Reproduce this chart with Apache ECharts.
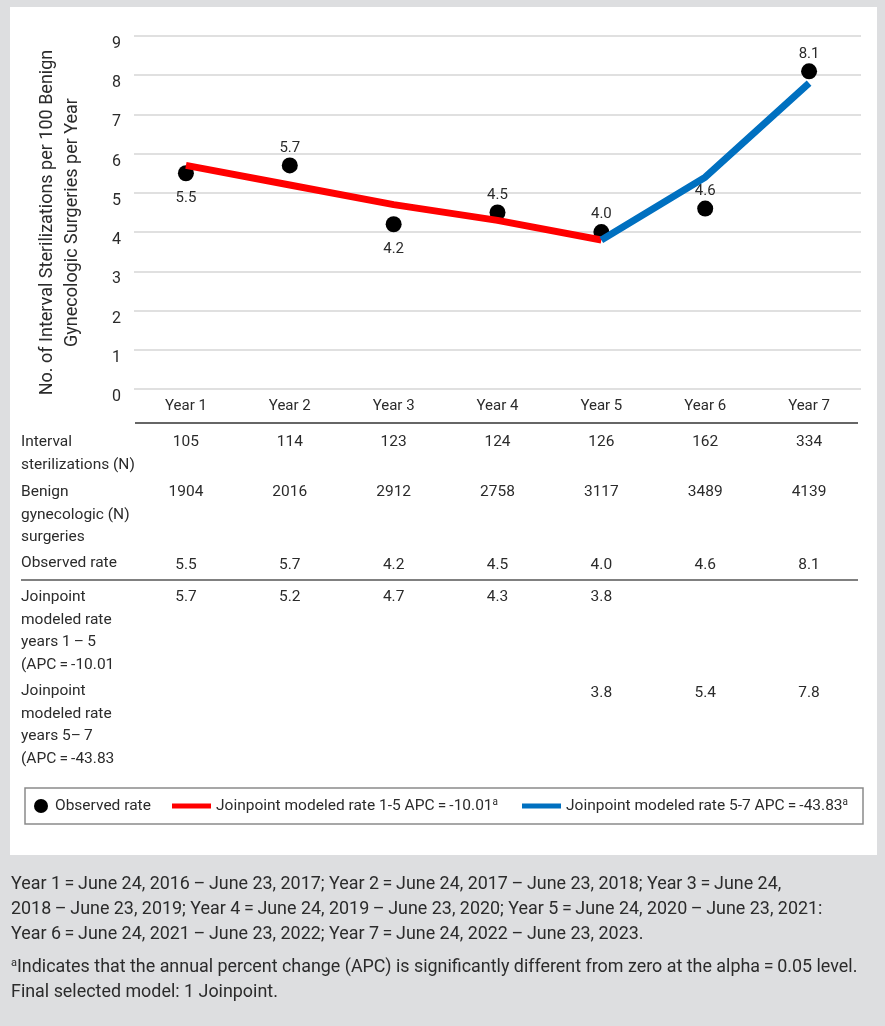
<!DOCTYPE html>
<html>
<head>
<meta charset="utf-8">
<script src="https://cdn.jsdelivr.net/npm/echarts@6/dist/echarts.min.js"></script>
<style>
  html, body { margin: 0; padding: 0; background: #dddee0; }
  #panel { position: absolute; left: 10px; top: 7px; width: 867px; height: 848px; background: #ffffff; }
  #chart { position: absolute; left: 0; top: 0; width: 885px; height: 1026px; }
</style>
</head>
<body>
<div id="panel"></div>
<div id="chart"></div>
<script>
// Study years on the category axis
const years = ['Year 1', 'Year 2', 'Year 3', 'Year 4', 'Year 5', 'Year 6', 'Year 7'];

// Interval sterilizations per 100 benign gynecologic surgeries
const observedRate = [5.5, 5.7, 4.2, 4.5, 4.0, 4.6, 8.1];
const modeledRate1to5 = [5.7, 5.2, 4.7, 4.3, 3.8, null, null];
const modeledRate5to7 = [null, null, null, null, 3.8, 5.4, 7.8];

// Counts shown in the table under the plot
const intervalSterilizations = [105, 114, 123, 124, 126, 162, 334];
const benignSurgeries = [1904, 2016, 2912, 2758, 3117, 3489, 4139];

// Value axis range
const yMin = 0, yMax = 9, yStep = 1;

// Which side of each dot its value label sits on
const observedLabelSide = ['bottom', 'top', 'bottom', 'top', 'top', 'top', 'top'];

const FONT = 'Roboto, "Liberation Sans", sans-serif';
const INK = '#2b2b2b';
const NAME_OBS = 'Observed rate';
const NAME_15 = 'Joinpoint modeled rate 1-5 APC\u2009=\u2009-10.01';
const NAME_57 = 'Joinpoint modeled rate 5-7 APC\u2009=\u2009-43.83';

const legendText = {
  fontFamily: FONT, fontSize: 15.5, color: INK, lineHeight: 18,
  rich: {
    t: { fontFamily: FONT, fontSize: 15.5, color: INK, lineHeight: 18 },
    s: { fontFamily: FONT, fontSize: 10, color: INK, lineHeight: 8, verticalAlign: 'top' }
  }
};

const chart = echarts.init(document.getElementById('chart'), null, { renderer: 'canvas' });

const option = {
  animation: false,
  backgroundColor: 'transparent',
  textStyle: { fontFamily: FONT },
  grid: { left: 134, right: 24, top: 36, bottom: 637, containLabel: false },
  xAxis: {
    type: 'category',
    data: years,
    boundaryGap: true,
    axisLine: { show: false },
    axisTick: { show: false },
    axisLabel: { color: INK, fontSize: 15, fontFamily: FONT, margin: 10, lineHeight: 15 }
  },
  yAxis: {
    type: 'value',
    min: yMin, max: yMax, interval: yStep,
    name: 'No. of Interval Sterilizations per 100 Benign\nGynecologic Surgeries per Year',
    nameLocation: 'middle',
    nameRotate: 90,
    nameGap: 49.5,
    nameTextStyle: { color: INK, fontSize: 18, fontFamily: FONT, lineHeight: 25, padding: [0, 20, 0, 0] },
    axisLine: { show: false },
    axisTick: { show: false },
    axisLabel: { color: INK, fontSize: 16, fontFamily: FONT, margin: 13, verticalAlign: 'top', lineHeight: 16 },
    splitLine: { show: true, lineStyle: { color: '#d6d6d6', width: 1.5 } }
  },
  legend: [
    {
      data: [{ name: NAME_OBS, icon: 'circle', itemStyle: { color: '#000000', opacity: 1 } }],
      left: 34, top: 797, padding: 0, itemWidth: 14, itemHeight: 14,
      selectedMode: false,
      textStyle: Object.assign({}, legendText, { padding: [0, 0, 0, 2] })
    },
    {
      data: [{ name: NAME_15, icon: 'rect' }],
      left: 172, top: 797, padding: 0, itemWidth: 39, itemHeight: 5,
      selectedMode: false,
      formatter: n => '{t|' + n + '}{s|a}',
      textStyle: legendText
    },
    {
      data: [{ name: NAME_57, icon: 'rect' }],
      left: 522, top: 797, padding: 0, itemWidth: 39, itemHeight: 5,
      selectedMode: false,
      formatter: n => '{t|' + n + '}{s|a}',
      textStyle: legendText
    }
  ],
  series: [
    {
      name: NAME_OBS,
      type: 'scatter',
      z: 2,
      symbol: 'circle',
      symbolSize: 16,
      itemStyle: { color: '#000000', opacity: 1 },
      data: observedRate.map((v, i) => ({
        value: v,
        label: { position: observedLabelSide[i], distance: observedLabelSide[i] === 'bottom' ? 9 : 2 }
      })),
      label: {
        show: true,
        color: INK,
        fontSize: 15,
        fontFamily: FONT,
        formatter: p => p.value.toFixed(1)
      }
    },
    {
      name: NAME_15,
      type: 'line',
      z: 3,
      color: '#ff0000',
      showSymbol: false,
      symbol: 'none',
      lineStyle: { color: '#ff0000', width: 7, cap: 'butt' },
      data: modeledRate1to5
    },
    {
      name: NAME_57,
      type: 'line',
      z: 4,
      color: '#0070c0',
      showSymbol: false,
      symbol: 'none',
      lineStyle: { color: '#0070c0', width: 7, cap: 'butt' },
      data: modeledRate5to7
    }
  ]
};

chart.setOption(option);

// ---- table under the plot, columns aligned with the category axis ----
const colX = years.map(y => chart.convertToPixel({ xAxisIndex: 0 }, y));
const fmt1 = v => (v == null ? '' : v.toFixed(1));

const tableRows = [
  { label: 'Interval\nsterilizations (N)', labelTop: 431, valueY: 442, values: intervalSterilizations.map(String) },
  { label: 'Benign\ngynecologic (N)\nsurgeries', labelTop: 481, valueY: 492, values: benignSurgeries.map(String) },
  { label: 'Observed rate', labelTop: 552, valueY: 565, values: observedRate.map(fmt1) },
  { label: 'Joinpoint\nmodeled rate\nyears 1\u2009\u2013\u20095\n(APC\u2009=\u2009-10.01', labelTop: 586, valueY: 597, values: modeledRate1to5.map(fmt1) },
  { label: 'Joinpoint\nmodeled rate\nyears 5\u2013\u20097\n(APC\u2009=\u2009-43.83', labelTop: 680, valueY: 693, values: modeledRate5to7.map(fmt1) }
];

const graphics = [];

graphics.push({
  type: 'line', silent: true,
  shape: { x1: 135, y1: 423, x2: 858, y2: 423 },
  style: { stroke: '#333333', lineWidth: 1.5 }
});
graphics.push({
  type: 'line', silent: true,
  shape: { x1: 21, y1: 580, x2: 858, y2: 580 },
  style: { stroke: '#808080', lineWidth: 2 }
});

tableRows.forEach(row => {
  graphics.push({
    type: 'text', silent: true,
    style: {
      text: row.label, x: 21, y: row.labelTop,
      fontFamily: FONT, fontSize: 15.5, lineHeight: 22.5,
      fill: INK, align: 'left', verticalAlign: 'top'
    }
  });
  row.values.forEach((txt, i) => {
    if (!txt) return;
    graphics.push({
      type: 'text', silent: true,
      style: {
        text: txt, x: colX[i], y: row.valueY,
        fontFamily: FONT, fontSize: 15.5,
        fill: INK, align: 'center', verticalAlign: 'middle'
      }
    });
  });
});

// legend frame
graphics.push({
  type: 'rect', silent: true,
  shape: { x: 25, y: 788, width: 838, height: 36 },
  style: { fill: 'none', stroke: '#8a8a8a', lineWidth: 1.5 }
});

// ---- notes under the panel ----
const NOTE_SIZE = 17.9;
const noteLines = [
  'Year 1\u2009=\u2009June 24, 2016\u2009\u2013\u2009June 23, 2017; Year 2\u2009=\u2009June 24, 2017\u2009\u2013\u2009June 23, 2018; Year 3\u2009=\u2009June 24,',
  '2018\u2009\u2013\u2009June 23, 2019; Year 4\u2009=\u2009June 24, 2019\u2009\u2013\u2009June 23, 2020; Year 5\u2009=\u2009June 24, 2020\u2009\u2013\u2009June 23, 2021:',
  'Year 6\u2009=\u2009June 24, 2021\u2009\u2013\u2009June 23, 2022; Year 7\u2009=\u2009June 24, 2022\u2009\u2013\u2009June 23, 2023.'
];
const noteY = [885, 910, 935];
noteLines.forEach((t, i) => {
  graphics.push({
    type: 'text', silent: true,
    style: { text: t, x: 11, y: noteY[i], fontFamily: FONT, fontSize: NOTE_SIZE, fill: INK, align: 'left', verticalAlign: 'middle' }
  });
});
graphics.push({
  type: 'text', silent: true,
  style: {
    text: '{s|a}{t|Indicates that the annual percent change (APC) is significantly different from zero at the alpha\u2009=\u20090.05 level.}',
    x: 11, y: 968, align: 'left', verticalAlign: 'middle',
    rich: {
      t: { fontFamily: FONT, fontSize: NOTE_SIZE, fill: INK, lineHeight: 20 },
      s: { fontFamily: FONT, fontSize: 11, fill: INK, lineHeight: 10, verticalAlign: 'top' }
    }
  }
});
graphics.push({
  type: 'text', silent: true,
  style: { text: 'Final selected model: 1 Joinpoint.', x: 11, y: 993, fontFamily: FONT, fontSize: NOTE_SIZE, fill: INK, align: 'left', verticalAlign: 'middle' }
});

chart.setOption({ graphic: { elements: graphics } });
</script>
</body>
</html>
